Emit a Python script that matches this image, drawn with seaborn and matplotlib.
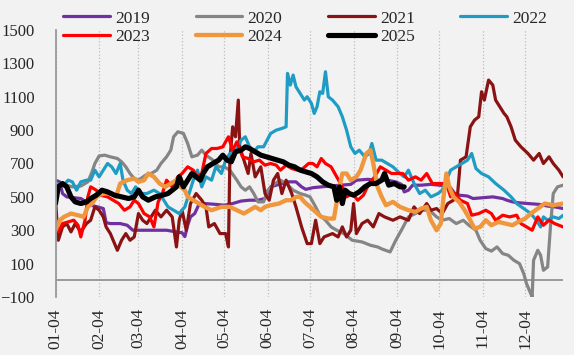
import numpy as np
import pandas as pd
import matplotlib
matplotlib.use('Agg')
import matplotlib.pyplot as plt
import seaborn as sns

# ---- data (month-day, value) ----
years = ['2019', '2020', '2021', '2022', '2023', '2024', '2025']

dates_2019 = ['01-04', '01-07', '01-09', '01-12', '01-17', '01-22', '01-26', '01-29', '02-03', '02-07',
              '02-09', '02-12', '02-19', '02-24', '02-28', '03-09', '03-16', '03-24', '03-31', '04-04',
              '04-06', '04-08', '04-10', '04-13', '04-16', '04-20', '04-28', '05-04', '05-10', '05-16',
              '05-22', '05-28', '06-02', '06-06', '06-12', '06-18', '06-24', '06-28', '07-01', '07-06',
              '07-12', '07-18', '07-26', '08-02', '08-06', '08-14', '08-21', '08-28', '09-03', '09-07',
              '09-09', '09-12', '09-15', '09-21', '09-28', '10-04', '10-11', '10-15', '10-18', '10-24',
              '10-28', '11-04', '11-11', '11-18', '11-21', '11-25', '11-29', '12-06', '12-14', '12-20',
              '12-25', '12-31']
vals_2019 = [600, 590, 520, 500, 495, 490, 470, 450, 440, 430,
             345, 340, 340, 330, 300, 300, 300, 300, 290, 285,
             262, 330, 380, 400, 455, 460, 455, 450, 460, 475,
             480, 480, 490, 560, 575, 590, 590, 560, 545, 555,
             560, 565, 570, 575, 600, 605, 600, 600, 590, 575,
             530, 540, 570, 570, 575, 570, 565, 520, 510, 505,
             490, 495, 500, 490, 480, 470, 465, 460, 455, 445,
             440, 430]

dates_2020 = ['01-04', '01-10', '01-16', '01-22', '01-27', '01-30', '02-01', '02-04', '02-08', '02-12',
              '02-17', '02-20', '02-23', '02-26', '03-01', '03-04', '03-09', '03-13', '03-17', '03-20',
              '03-24', '03-27', '03-29', '04-01', '04-05', '04-08', '04-11', '04-15', '04-18', '04-21',
              '04-26', '04-30', '05-04', '05-08', '05-13', '05-16', '05-19', '05-22', '05-25', '05-28',
              '06-01', '06-04', '06-09', '06-13', '06-17', '06-22', '06-27', '07-01', '07-04', '07-08',
              '07-11', '07-15', '07-19', '07-23', '07-28', '08-03', '08-10', '08-16', '08-21', '08-25',
              '08-30', '09-03', '09-07', '09-12', '09-17', '09-22', '09-27', '10-02', '10-06', '10-11',
              '10-16', '10-21', '10-25', '10-30', '11-02', '11-06', '11-10', '11-14', '11-18', '11-22',
              '11-26', '11-30', '12-03', '12-05', '12-07', '12-09', '12-10', '12-13', '12-15', '12-17',
              '12-20', '12-22', '12-24', '12-27', '12-31']
vals_2020 = [560, 575, 560, 565, 590, 650, 700, 745, 750, 740,
             730, 710, 680, 640, 610, 600, 630, 640, 660, 700,
             740, 780, 860, 890, 880, 820, 740, 750, 780, 750,
             720, 680, 680, 660, 600, 560, 540, 560, 520, 470,
             470, 540, 580, 600, 580, 540, 520, 510, 500, 440,
             390, 360, 320, 300, 280, 240, 230, 210, 200, 185,
             170, 240, 300, 380, 400, 420, 420, 380, 360, 370,
             340, 360, 330, 300, 240, 190, 175, 200, 160, 150,
             120, 100, 40, -20, -60, -100, 120, 180, 150, 60,
             80, 320, 520, 560, 570]

dates_2021 = ['01-04', '01-06', '01-09', '01-12', '01-15', '01-18', '01-22', '01-26', '01-29', '02-01',
              '02-04', '02-07', '02-09', '02-12', '02-15', '02-17', '02-20', '02-23', '02-26', '03-01',
              '03-04', '03-07', '03-10', '03-13', '03-16', '03-20', '03-24', '03-28', '03-31', '04-02',
              '04-04', '04-07', '04-10', '04-14', '04-18', '04-21', '04-23', '04-27', '05-01', '05-05',
              '05-07', '05-08', '05-10', '05-12', '05-14', '05-15', '05-18', '05-21', '05-23', '05-26',
              '05-30', '06-02', '06-05', '06-08', '06-11', '06-14', '06-17', '06-21', '06-24', '06-28',
              '07-02', '07-05', '07-08', '07-11', '07-14', '07-20', '07-24', '07-27', '07-30', '08-02',
              '08-04', '08-06', '08-10', '08-14', '08-18', '08-22', '08-26', '09-01', '09-06', '09-12',
              '09-16', '09-20', '09-25', '09-28', '10-02', '10-06', '10-10', '10-14', '10-17', '10-19',
              '10-23', '10-26', '10-29', '11-01', '11-03', '11-05', '11-08', '11-11', '11-13', '11-16',
              '11-19', '11-21', '11-24', '11-27', '12-01', '12-06', '12-10', '12-14', '12-17', '12-21',
              '12-24', '12-28', '12-31']
vals_2021 = [480, 240, 320, 340, 290, 340, 290, 340, 360, 440,
             420, 380, 320, 280, 220, 180, 240, 280, 240, 260,
             400, 360, 340, 380, 420, 380, 420, 380, 200, 360,
             420, 300, 460, 520, 480, 440, 320, 340, 280, 280,
             200, 720, 920, 860, 1080, 800, 720, 640, 760, 620,
             680, 520, 480, 600, 640, 520, 600, 520, 440, 320,
             220, 220, 360, 220, 260, 280, 260, 320, 260, 300,
             460, 280, 340, 360, 320, 400, 380, 360, 380, 360,
             440, 400, 460, 420, 430, 400, 460, 480, 520, 720,
             740, 920, 960, 980, 1130, 1080, 1200, 1170, 1080, 1040,
             1000, 980, 920, 840, 800, 760, 720, 760, 700, 740,
             700, 660, 620]

dates_2022 = ['01-04', '01-07', '01-10', '01-13', '01-16', '01-19', '01-22', '01-26', '01-29', '02-01',
              '02-04', '02-07', '02-10', '02-13', '02-16', '02-19', '02-21', '02-24', '02-27', '03-02',
              '03-06', '03-10', '03-15', '03-19', '03-22', '03-25', '03-29', '04-02', '04-06', '04-09',
              '04-12', '04-15', '04-18', '04-21', '04-25', '04-28', '05-02', '05-05', '05-08', '05-12',
              '05-16', '05-19', '05-22', '05-25', '05-28', '06-01', '06-06', '06-10', '06-14', '06-17',
              '06-18', '06-20', '06-22', '06-24', '06-27', '06-30', '07-02', '07-05', '07-07', '07-09',
              '07-11', '07-13', '07-15', '07-17', '07-20', '07-24', '07-27', '07-30', '08-02', '08-05',
              '08-08', '08-12', '08-15', '08-17', '08-20', '08-24', '08-28', '09-01', '09-06', '09-09',
              '09-12', '09-16', '09-20', '09-24', '09-28', '10-03', '10-06', '10-09', '10-12', '10-16',
              '10-20', '10-24', '10-27', '10-30', '11-03', '11-08', '11-13', '11-19', '11-24', '11-28',
              '12-03', '12-08', '12-12', '12-15', '12-17', '12-20', '12-24', '12-28', '12-31']
vals_2022 = [560, 580, 570, 600, 590, 540, 590, 600, 600, 660,
             620, 660, 700, 680, 640, 700, 600, 540, 520, 560,
             520, 520, 540, 520, 480, 440, 420, 400, 440, 520,
             600, 660, 560, 620, 600, 680, 640, 720, 760, 770,
             840, 860, 800, 770, 800, 800, 880, 900, 910, 920,
             1240, 1170, 1230, 1160, 1120, 1080, 1100, 1060, 1000, 1040,
             1130, 1120, 1250, 1100, 1080, 1040, 980, 900, 800, 760,
             780, 740, 760, 820, 720, 720, 700, 680, 640, 620,
             660, 580, 520, 540, 500, 520, 540, 600, 660, 680,
             700, 720, 760, 670, 640, 620, 580, 540, 500, 460,
             430, 400, 360, 320, 380, 360, 380, 370, 390]

dates_2023 = ['01-04', '01-06', '01-09', '01-13', '01-17', '01-20', '01-22', '01-25', '01-27', '01-29',
              '02-02', '02-05', '02-10', '02-14', '02-18', '02-22', '02-26', '03-01', '03-04', '03-08',
              '03-12', '03-15', '03-18', '03-21', '03-24', '03-28', '04-01', '04-04', '04-08', '04-12',
              '04-15', '04-18', '04-21', '04-25', '04-29', '05-03', '05-07', '05-10', '05-13', '05-17',
              '05-21', '05-25', '05-29', '06-02', '06-06', '06-10', '06-13', '06-17', '06-21', '06-25',
              '06-29', '07-03', '07-06', '07-09', '07-12', '07-15', '07-19', '07-23', '07-27', '07-30',
              '08-03', '08-07', '08-11', '08-15', '08-19', '08-23', '08-27', '08-31', '09-04', '09-08',
              '09-12', '09-17', '09-21', '09-25', '09-29', '10-04', '10-09', '10-12', '10-15', '10-19',
              '10-24', '10-27', '11-01', '11-06', '11-10', '11-13', '11-18', '11-23', '11-28', '12-01',
              '12-05', '12-09', '12-13', '12-17', '12-21', '12-25', '12-31']
vals_2023 = [380, 290, 340, 350, 360, 330, 260, 360, 500, 560,
             540, 510, 500, 480, 460, 420, 440, 480, 460, 400,
             380, 320, 470, 520, 600, 560, 620, 640, 680, 660,
             620, 640, 760, 790, 790, 800, 860, 780, 830, 740,
             730, 710, 720, 690, 700, 690, 660, 690, 670, 660,
             670, 700, 700, 680, 730, 700, 680, 620, 560, 500,
             520, 480, 510, 580, 620, 680, 660, 640, 640, 640,
             600, 620, 600, 640, 580, 580, 580, 500, 520, 480,
             460, 390, 400, 420, 400, 360, 390, 380, 390, 340,
             320, 300, 380, 330, 360, 340, 320]

dates_2024 = ['01-04', '01-07', '01-10', '01-15', '01-20', '01-24', '01-27', '01-30', '02-03', '02-08',
              '02-13', '02-16', '02-19', '02-24', '03-01', '03-04', '03-08', '03-11', '03-15', '03-19',
              '03-23', '03-27', '03-31', '04-03', '04-06', '04-08', '04-12', '04-16', '04-20', '04-25',
              '05-02', '05-08', '05-13', '05-18', '05-22', '05-26', '05-30', '06-02', '06-06', '06-12',
              '06-17', '06-21', '06-24', '06-27', '06-30', '07-04', '07-08', '07-12', '07-17', '07-21',
              '07-24', '07-27', '07-30', '08-02', '08-06', '08-09', '08-13', '08-16', '08-18', '08-21',
              '08-24', '08-27', '09-01', '09-06', '09-12', '09-17', '09-21', '09-25', '09-28', '10-02',
              '10-05', '10-07', '10-09', '10-11', '10-14', '10-18', '10-22', '10-26', '10-29', '11-02',
              '11-06', '11-10', '11-15', '11-20', '11-25', '11-29', '12-04', '12-08', '12-13', '12-18',
              '12-24', '12-31']
vals_2024 = [300, 360, 380, 400, 390, 380, 440, 460, 510, 520,
             520, 500, 580, 600, 610, 590, 600, 640, 620, 580,
             560, 580, 600, 560, 540, 500, 480, 460, 440, 420,
             440, 440, 420, 400, 420, 440, 420, 440, 450, 460,
             480, 480, 500, 500, 470, 440, 410, 380, 370, 370,
             520, 640, 640, 600, 620, 660, 760, 780, 700, 560,
             500, 450, 470, 440, 420, 410, 430, 440, 360, 300,
             340, 500, 640, 560, 500, 470, 420, 360, 310, 320,
             360, 330, 350, 340, 330, 350, 370, 400, 430, 460,
             450, 460]

dates_2025 = ['01-04', '01-06', '01-09', '01-12', '01-15', '01-18', '01-22', '01-26', '01-29', '02-02',
              '02-06', '02-10', '02-15', '02-20', '02-25', '03-01', '03-04', '03-07', '03-11', '03-16',
              '03-21', '03-25', '03-28', '03-31', '04-02', '04-05', '04-08', '04-11', '04-14', '04-17',
              '04-19', '04-22', '04-26', '04-30', '05-03', '05-06', '05-09', '05-12', '05-16', '05-19',
              '05-22', '05-26', '05-30', '06-03', '06-07', '06-11', '06-15', '06-19', '06-23', '06-27',
              '07-01', '07-05', '07-09', '07-13', '07-17', '07-21', '07-23', '07-25', '07-27', '07-29',
              '08-01', '08-04', '08-08', '08-12', '08-16', '08-20', '08-24', '08-26', '08-29', '09-02',
              '09-06', '09-09']
vals_2025 = [460, 560, 580, 560, 500, 470, 460, 470, 490, 510,
             540, 530, 510, 500, 490, 500, 540, 500, 480, 500,
             510, 520, 540, 560, 620, 560, 600, 640, 620, 600,
             640, 680, 700, 720, 750, 720, 710, 770, 780, 800,
             790, 770, 750, 740, 730, 720, 710, 690, 680, 660,
             650, 640, 620, 590, 570, 560, 480, 560, 460, 540,
             520, 510, 530, 560, 580, 580, 600, 640, 570, 580,
             560, 560]

all_dates = [dates_2019, dates_2020, dates_2021, dates_2022, dates_2023, dates_2024, dates_2025]
all_vals = [vals_2019, vals_2020, vals_2021, vals_2022, vals_2023, vals_2024, vals_2025]

tick_labels = ['01-04', '02-04', '03-04', '04-04', '05-04', '06-04',
               '07-04', '08-04', '09-04', '10-04', '11-04', '12-04']

# ---- style ----
colors = ['#7030A0', '#858585', '#8B1212', '#1F9CC4', '#FF0000', '#F0963C', '#000000']
widths = [2.3, 2.3, 2.3, 2.3, 2.3, 3.1, 3.7]
BG = '#f2f2f2'
AXC = '#9a9a9a'

sns.set_style('white')
plt.rcParams['font.family'] = ['Liberation Serif', 'DejaVu Serif']

frames = []
for yr, d, v in zip(years, all_dates, all_vals):
    assert len(d) == len(v), yr
    frames.append(pd.DataFrame({'year': yr,
                                'date': pd.to_datetime(['2023-' + s for s in d]),
                                'value': v}))
df = pd.concat(frames, ignore_index=True)

fig = plt.figure(figsize=(5.74, 3.55), dpi=100, facecolor=BG)
ax = fig.add_axes([0.0967, 0.1634, 0.8843, 0.7521])
ax.set_facecolor(BG)

for yr, c, lw in zip(years, colors, widths):
    sns.lineplot(data=df[df['year'] == yr], x='date', y='value', color=c,
                 linewidth=lw, estimator=None, ax=ax, label=yr)

ax.axhline(0, color=AXC, lw=1.4, zorder=1.5)

ax.set_xlim(pd.Timestamp('2023-01-04'), pd.Timestamp('2023-12-31'))
ax.set_ylim(-100, 1500)
ax.set_yticks(np.arange(-100, 1501, 200))
ticks = pd.to_datetime(['2023-' + s for s in tick_labels])
ax.set_xticks(ticks)
ax.set_xticklabels(tick_labels, rotation=90)
ax.set_xlabel('')
ax.set_ylabel('')

ax.xaxis.grid(True, linestyle=':', color='#bdbdbd', lw=0.9)
ax.yaxis.grid(False)
for s in ['top', 'right', 'bottom']:
    ax.spines[s].set_visible(False)
ax.spines['left'].set_color(AXC)
ax.spines['left'].set_linewidth(1.3)
ax.tick_params(axis='x', length=0, pad=8, labelsize=12.5)
ax.tick_params(axis='y', length=4, width=1.2, color=AXC, direction='out',
               pad=11, labelsize=12)

handles, labels = ax.get_legend_handles_labels()
ax.get_legend().remove()
order = [0, 4, 1, 5, 2, 6, 3]
fig.legend([handles[i] for i in order], [labels[i] for i in order],
           loc='upper left', bbox_to_anchor=(0.089, 1.005), ncol=4, frameon=False,
           fontsize=12.5, handlelength=2.7, handletextpad=0.3, columnspacing=2.62,
           labelspacing=0.15, borderpad=0.2)

fig.savefig('out.png', dpi=100, facecolor=BG)
